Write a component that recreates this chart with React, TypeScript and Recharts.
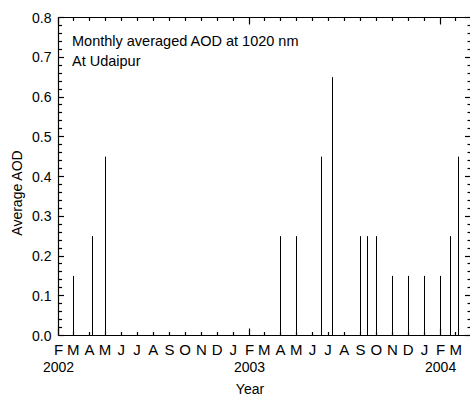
import React from 'react';
import { ComposedChart, Bar, XAxis, YAxis, Customized, ReferenceLine } from 'recharts';

// Observation dates and monthly averaged AOD (1020 nm) at Udaipur
const obsDates = [
  '2002-03-01', '2002-04-07', '2002-05-01',
  '2003-04-01', '2003-05-01', '2003-06-18', '2003-07-10',
  '2003-09-01', '2003-09-14', '2003-10-01', '2003-11-01', '2003-12-01',
  '2004-01-01', '2004-02-01', '2004-02-20', '2004-03-05',
];
const aodValues = [
  0.15, 0.25, 0.45,
  0.25, 0.25, 0.45, 0.65,
  0.25, 0.25, 0.25, 0.15, 0.15,
  0.15, 0.15, 0.25, 0.45,
];

// Month tick labels starting at Feb 2002
const monthLetters = [
  'F', 'M', 'A', 'M', 'J', 'J', 'A', 'S', 'O', 'N', 'D', 'J',
  'F', 'M', 'A', 'M', 'J', 'J', 'A', 'S', 'O', 'N', 'D', 'J',
  'F', 'M',
];
const yearTickIndex = [0, 12, 24];
const yearNames = ['2002', '2003', '2004'];
const yMajorLabels = ['0.0', '0.1', '0.2', '0.3', '0.4', '0.5', '0.6', '0.7', '0.8'];

const DAY = 86400000;
const ORIGIN = Date.UTC(2002, 1, 1);
const toDay = (s: string) => (Date.parse(s) - ORIGIN) / DAY;

const data = obsDates.map((d, i) => ({ x: toDay(d), aod: aodValues[i] }));
const monthTicks = monthLetters.map((_, i) => (Date.UTC(2002, 1 + i, 1) - ORIGIN) / DAY);
const yTicks: number[] = [];
for (let i = 0; i <= 40; i++) yTicks.push(Math.round(i * 2) / 100);

const FONT = '"Liberation Sans", Arial, Helvetica, sans-serif';
const INK = '#000';
const px = (v: number) => Math.round(v - 0.5) + 0.5;
const isMajorY = (v: number) => Math.abs(v * 10 - Math.round(v * 10)) < 1e-6;

const BottomTick = (props: any) => {
  const x = Number(props.x), y = Number(props.y);
  const i = monthTicks.indexOf(props.payload.value);
  const yi = yearTickIndex.indexOf(i);
  const len = yi >= 0 ? 7 : 3.5;
  const xr = px(x);
  return (
    <g>
      <line x1={xr} x2={xr} y1={y} y2={y - len} stroke={INK} strokeWidth={1.2} />
      <text x={x} y={y + 19.5} textAnchor="middle" fontSize={15} fontFamily={FONT} fill={INK}>
        {monthLetters[i]}
      </text>
      {yi >= 0 && (
        <text x={x} y={y + 36.5} textAnchor="middle" fontSize={14} fontFamily={FONT} fill={INK}>
          {yearNames[yi]}
        </text>
      )}
    </g>
  );
};

const TopTick = (props: any) => {
  const x = Number(props.x), y = Number(props.y);
  const i = monthTicks.indexOf(props.payload.value);
  const len = yearTickIndex.indexOf(i) >= 0 ? 7 : 3.5;
  const xr = px(x);
  return <line x1={xr} x2={xr} y1={y} y2={y + len} stroke={INK} strokeWidth={1.2} />;
};

const LeftTick = (props: any) => {
  const x = Number(props.x), y = Number(props.y);
  const v = props.payload.value as number;
  const major = isMajorY(v);
  const yr = px(y);
  return (
    <g>
      <line x1={x} x2={x + (major ? 5.5 : 3.5)} y1={yr} y2={yr} stroke={INK} strokeWidth={1.2} />
      {major && (
        <text x={x - 7} y={y} dy={5} textAnchor="end" fontSize={14} fontFamily={FONT} fill={INK}>
          {yMajorLabels[Math.round(v * 10)]}
        </text>
      )}
    </g>
  );
};

const RightTick = (props: any) => {
  const x = Number(props.x), y = Number(props.y);
  const major = isMajorY(props.payload.value);
  const yr = px(y);
  return <line x1={x} x2={x - (major ? 6 : 3.5)} y1={yr} y2={yr} stroke={INK} strokeWidth={1.2} />;
};

const Stick = (p: any) => {
  if (p.x == null || p.height == null) return null;
  const cx = Math.floor(Number(p.x) + Number(p.width) / 2) + 0.5;
  return <line x1={cx} x2={cx} y1={p.y} y2={Number(p.y) + Number(p.height)} stroke={INK} strokeWidth={1} />;
};
const Nothing = () => null;

const Texts = () => (
  <g fontFamily={FONT} fill={INK}>
    <text x={72} y={45.5} fontSize={14.5}>Monthly averaged AOD at 1020 nm</text>
    <text x={72} y={66} fontSize={14.5}>At Udaipur</text>
    <text x={250} y={394} fontSize={14} textAnchor="middle">Year</text>
    <text x={22} y={193} fontSize={14} textAnchor="middle" transform="rotate(-90 22 193)">Average AOD</text>
  </g>
);

export default function App() {
  return (
    <div style={{ position: 'absolute', left: 0, top: 0, width: 470, height: 396, overflow: 'hidden', background: '#fff' }}>
      <ComposedChart
        width={472}
        height={396}
        data={data}
        margin={{ top: 7.5, right: 0, bottom: 0, left: 0.5 }}
      >
        <XAxis
          dataKey="x"
          type="number"
          domain={[0, 788]}
          allowDataOverflow
          ticks={monthTicks}
          interval={0}
          height={60.5}
          tickSize={0}
          tickMargin={0}
          tickLine={false}
          axisLine={{ stroke: INK, strokeWidth: 1.2 }}
          tick={<BottomTick />}
        />
        <XAxis
          xAxisId="top"
          orientation="top"
          dataKey="x"
          type="number"
          domain={[0, 788]}
          allowDataOverflow
          ticks={monthTicks}
          interval={0}
          height={10}
          tickSize={0}
          tickMargin={0}
          tickLine={false}
          axisLine={{ stroke: INK, strokeWidth: 1.2 }}
          tick={<TopTick />}
        />
        <YAxis
          type="number"
          domain={[0, 0.8]}
          allowDataOverflow
          ticks={yTicks}
          interval={0}
          width={58}
          tickSize={0}
          tickMargin={0}
          tickLine={false}
          axisLine={{ stroke: INK, strokeWidth: 1.2 }}
          tick={<LeftTick />}
        />
        <YAxis
          yAxisId="right"
          orientation="right"
          type="number"
          domain={[0, 0.8]}
          allowDataOverflow
          ticks={yTicks}
          interval={0}
          width={1}
          tickSize={0}
          tickMargin={0}
          tickLine={false}
          axisLine={{ stroke: INK, strokeWidth: 1.2 }}
          tick={<RightTick />}
        />
        <ReferenceLine y={0.8} stroke={INK} strokeWidth={1.2} ifOverflow="visible" />
        <Bar dataKey="aod" barSize={1} fill={INK} shape={<Stick />} isAnimationActive={false} />
        <Bar dataKey="aod" xAxisId="top" yAxisId="right" barSize={1} shape={<Nothing />} isAnimationActive={false} />
        <Customized component={Texts} />
      </ComposedChart>
    </div>
  );
}
